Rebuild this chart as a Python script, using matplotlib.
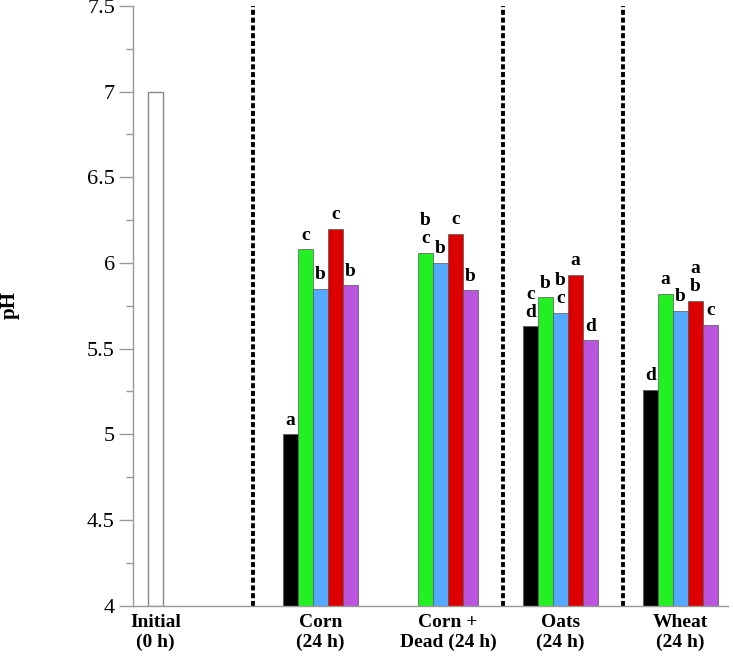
import numpy as np
import matplotlib.pyplot as plt
from matplotlib.ticker import MultipleLocator

# data
groups = ["Corn\n(24 h)", "Corn +\nDead (24 h)", "Oats\n(24 h)", "Wheat\n(24 h)"]
initial_label = "Initial\n(0 h)"
initial_ph = 7.0

black_vals = [5.00, np.nan, 5.63, 5.26]
green_vals = [6.08, 6.06, 5.80, 5.82]
blue_vals = [5.85, 6.00, 5.71, 5.72]
red_vals = [6.20, 6.17, 5.93, 5.78]
purple_vals = [5.87, 5.84, 5.55, 5.64]

black_letters = ["a", "", "c\nd", "d"]
green_letters = ["c", "b\nc", "b", "a"]
blue_letters = ["b", "b", "b\nc", "b"]
red_letters = ["c", "c", "a", "a\nb"]
purple_letters = ["b", "b", "d", "c"]

series = [black_vals, green_vals, blue_vals, red_vals, purple_vals]
letters = [black_letters, green_letters, blue_letters, red_letters, purple_letters]
colors = ["#000000", "#22F022", "#55AAFF", "#DD0000", "#BB55DD"]

group_start = [10, 18, 26, 34]
divider_x = [8, 24.65, 32.65]

plt.rcParams['font.family'] = ['Liberation Serif', 'DejaVu Serif']

fig = plt.figure(figsize=(7.33, 6.56), dpi=100)
ax = fig.add_axes([133 / 733, 50.4 / 656, 595 / 733, 599.6 / 656])

base = 4.0
ax.bar(1, initial_ph - base, bottom=base, width=1, align='edge',
       color='white', edgecolor='#888888', linewidth=1)

for s, (vals, labs, col) in enumerate(zip(series, letters, colors)):
    for g, (v, lab) in enumerate(zip(vals, labs)):
        if np.isnan(v):
            continue
        x = group_start[g] + s
        ax.bar(x, v - base, bottom=base, width=1, align='edge',
               color=col, edgecolor='#555555', linewidth=0.5)
        if lab:
            ax.annotate(lab, (x + 0.5, v), xytext=(0, 4), textcoords='offset points',
                        ha='center', va='bottom', fontsize=14, fontweight='bold',
                        linespacing=1.1)

for dx in divider_x:
    ax.axvline(dx, color='black', lw=2.8, linestyle=(0, (1.3, 0.7)))

ax.set_xlim(0, 39.67)
ax.set_ylim(4, 7.5)

ax.yaxis.set_major_locator(MultipleLocator(0.5))
ax.yaxis.set_minor_locator(MultipleLocator(0.25))
yt = np.arange(4, 7.51, 0.5)
ax.set_yticks(yt)
ax.set_yticklabels([f"{t:g}" for t in yt], fontsize=16)
ax.tick_params(axis='y', which='major', length=10, width=1, color='#999999', pad=3)
ax.tick_params(axis='y', which='minor', length=5, width=1, color='#999999')

# x labels centred under each group
xt = [1.5]
for g in range(len(groups)):
    present = [group_start[g] + s for s in range(len(series)) if not np.isnan(series[s][g])]
    xt.append((min(present) + max(present) + 1) / 2)
ax.set_xticks(xt)
ax.set_xticklabels([initial_label] + groups, fontsize=14, fontweight='bold',
                   linespacing=1.2)
ax.tick_params(axis='x', length=0, pad=6)

for side in ['top', 'right']:
    ax.spines[side].set_visible(False)
for side in ['left', 'bottom']:
    ax.spines[side].set_color('#999999')
    ax.spines[side].set_linewidth(1)

fig.text(10 / 733, 1 - 305 / 656, "pH", rotation=90, ha='center', va='center',
         fontsize=15, fontweight='bold')

fig.savefig("out.png", dpi=100)
